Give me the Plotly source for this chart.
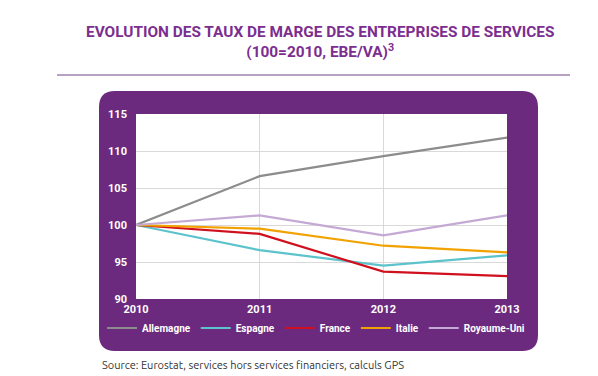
import plotly.graph_objects as go

years = [2010, 2011, 2012, 2013]
allemagne = [100, 106.6, 109.3, 111.8]
espagne = [100, 96.6, 94.5, 95.9]
france = [100, 98.8, 93.7, 93.1]
italie = [100, 99.5, 97.2, 96.3]
royaume_uni = [100, 101.3, 98.6, 101.3]

series = [
    ("Allemagne", allemagne, "#8c8c8c"),
    ("Espagne", espagne, "#5cc3cc"),
    ("France", france, "#d0101e"),
    ("Italie", italie, "#f2a200"),
    ("Royaume-Uni", royaume_uni, "#c3a9d3"),
]
y_ticks = [90, 95, 100, 105, 110, 115]

W, H = 598, 376
L, R, T, B = 128, 499, 106, 291  # plot area pixels
PURPLE = "#6c2a7e"
COND = "Roboto, Liberation Sans Narrow, DejaVu Sans Condensed, sans-serif"

fig = go.Figure()
for name, vals, col in series:
    fig.add_trace(go.Scatter(x=years, y=vals, name=name, mode="lines",
                             line=dict(color=col, width=2.2)))

def px_x(p):
    return (p - L) / (R - L)

def px_y(p):
    return (B - p) / (B - T)

# rounded purple panel
x0, x1, y0, y1, r = 91, 530, 83, 343, 16
def P(x, y):
    return f"{px_x(x):.5f},{px_y(y):.5f}"
path = (f"M {P(x0+r, y0)} L {P(x1-r, y0)} Q {P(x1, y0)} {P(x1, y0+r)} "
        f"L {P(x1, y1-r)} Q {P(x1, y1)} {P(x1-r, y1)} "
        f"L {P(x0+r, y1)} Q {P(x0, y1)} {P(x0, y1-r)} "
        f"L {P(x0, y0+r)} Q {P(x0, y0)} {P(x0+r, y0)} Z")
fig.add_shape(type="path", path=path, xref="paper", yref="paper",
              fillcolor=PURPLE, line=dict(width=0), layer="below")
fig.add_shape(type="rect", xref="paper", yref="paper", x0=0, x1=1, y0=0, y1=1,
              fillcolor="white", line=dict(width=0), layer="below")
# title underline
fig.add_shape(type="line", xref="paper", yref="paper",
              x0=px_x(49), x1=px_x(562), y0=px_y(67), y1=px_y(67),
              line=dict(color="#b7a2c2", width=2))

fig.add_annotation(text="<b>EVOLUTION DES TAUX DE MARGE DES ENTREPRISES DE SERVICES<br>(100=2010, EBE/VA)<sup>3</sup></b>",
                   xref="paper", yref="paper", x=px_x(312), y=px_y(34),
                   xanchor="center", yanchor="middle", showarrow=False,
                   font=dict(family="Roboto, sans-serif", size=15.4, color="#7b2e90"),
                   align="center")
fig.add_annotation(text="Source: Eurostat, services hors services financiers, calculs GPS",
                   xref="paper", yref="paper", x=px_x(92), y=px_y(357),
                   xanchor="left", yanchor="middle", showarrow=False,
                   font=dict(family="Ubuntu, Open Sans, sans-serif", size=11, color="#333333"))

fig.update_layout(
    width=W, height=H,
    margin=dict(l=L, r=W - R, t=T, b=H - B, pad=0),
    paper_bgcolor="white", plot_bgcolor="rgba(0,0,0,0)",
    showlegend=True,
    legend=dict(orientation="h", x=px_x(94), xanchor="left", y=px_y(320), yanchor="middle",
                font=dict(family=COND, size=10, color="white", weight="bold"),
                bgcolor="rgba(0,0,0,0)", itemwidth=30, tracegroupgap=0),
    xaxis=dict(range=[2010, 2013], tickvals=years, ticktext=[str(y) for y in years],
               showgrid=True, gridcolor="#d9d9d9", gridwidth=1, zeroline=False,
               showline=False, ticks="", ticklabelstandoff=2,
               tickfont=dict(family=COND, size=11, color="white", weight="bold")),
    yaxis=dict(range=[90, 115], tickvals=y_ticks,
               showgrid=True, gridcolor="#d9d9d9", gridwidth=1, zeroline=False,
               showline=False, ticks="", ticklabelstandoff=8,
               tickfont=dict(family=COND, size=11, color="white", weight="bold")),
)

fig.write_html("out.html")
